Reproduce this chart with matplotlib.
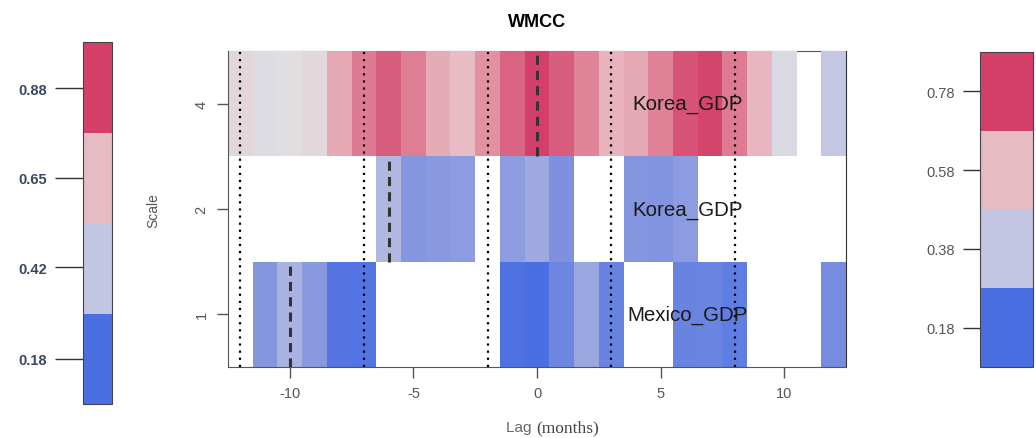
import numpy as np
import matplotlib
matplotlib.use("Agg")
import matplotlib.pyplot as plt
from matplotlib.colors import LinearSegmentedColormap, ListedColormap, BoundaryNorm
from matplotlib.cm import ScalarMappable

plt.rcParams['font.family'] = ['Liberation Sans', 'DejaVu Sans']
plt.rcParams['axes.unicode_minus'] = False

# ---- data ----
lags = np.arange(-12, 13)
row_scales = ['1', '2', '4']
row_names = ['Mexico_GDP', 'Korea_GDP', 'Korea_GDP']
nan = np.nan

# scale 1 (bottom row), lags -12..12
mexico_s1 = [nan, 0.25, 0.35, 0.26, 0.05, 0.04, nan, nan, nan, nan, nan, 0.02, 0.00,
             0.15, 0.31, 0.13, nan, nan, 0.13, 0.14, 0.09, nan, nan, nan, 0.19]
# scale 2 (middle row)
korea_s2 = [nan, nan, nan, nan, nan, nan, 0.37, 0.25, 0.26, 0.27, nan, 0.27, 0.32,
            0.22, nan, nan, 0.25, 0.24, 0.27, nan, nan, nan, nan, nan, nan]
# scale 4 (top row)
korea_s4 = [0.53, 0.49, 0.50, 0.52, 0.67, 0.81, 0.90, 0.80, 0.66, 0.61, 0.74, 0.88, 1.00,
            0.90, 0.78, 0.64, 0.67, 0.79, 0.93, 0.98, 0.81, 0.63, 0.48, nan, 0.42]

peak_lags = [-10, -6, 0]                 # dashed marks per row
window_lags = [-12, -7, -2, 3, 8]        # dotted lines

left_ticks = [0.18, 0.42, 0.65, 0.88]
left_bounds = [0.06, 0.30, 0.535, 0.765, 1.0]
right_ticks = [0.18, 0.38, 0.58, 0.78]
right_bounds = [0.08, 0.28, 0.48, 0.68, 0.88]

# ---- colours ----
cell_cmap = LinearSegmentedColormap.from_list('bluered', [
    (0.00, '#4a6fe3'), (0.25, '#8596e0'), (0.40, '#bcc1e2'), (0.50, '#e0dfe2'),
    (0.60, '#e8c0c8'), (0.75, '#e18ea0'), (1.00, '#d33f6a')])
bin_cmap = ListedColormap(['#4a6fe3', '#c2c6e2', '#e6bbc4', '#d4406a'])

fig = plt.figure(figsize=(10.36, 4.39), dpi=100)
ax = fig.add_axes([0.2201, 0.1617, 0.5965, 0.7198])

values = np.ma.masked_invalid(np.array([mexico_s1, korea_s2, korea_s4]))
x_edges = np.append(lags - 0.5, lags[-1] + 0.5)
y_edges = np.arange(0.5, 4.5, 1.0)
ax.pcolormesh(x_edges, y_edges, values, cmap=cell_cmap, vmin=0, vmax=1, zorder=1)

for lag in window_lags:
    ax.axvline(lag, color='black', lw=1.6, ls=(0, (1, 2.2)), zorder=3)
for row, lag in enumerate(peak_lags):
    ax.plot([lag, lag], [row + 0.5, row + 1.5], color='#333333', lw=2.2,
            ls=(0, (3, 2)), zorder=4)

for row, name in enumerate(row_names):
    ax.text(6.1, row + 1, name, ha='center', va='center', fontsize=14.8,
            color='#1a1a1a', zorder=5)

ax.set_xlim(-12.5, 12.5)
ax.set_ylim(0.5, 3.5)
ax.set_xticks([-10, -5, 0, 5, 10])
ax.set_yticks([1, 2, 3])
ax.set_yticklabels(row_scales, rotation=90, va='center')
ax.tick_params(axis='both', colors='#555555', labelsize=10.5, length=8, width=1)
ax.tick_params(axis='x', pad=6)
ax.tick_params(axis='y', pad=6)
for side in ['left', 'bottom', 'right', 'top']:
    ax.spines[side].set_color('#555555')
ax.spines['top'].set_zorder(0.5)
ax.spines['right'].set_color('#333333')

ax.set_title('WMCC', fontsize=13, fontweight='bold', pad=18)
fig.text(0.148, 0.52, 'Scale', rotation=90, ha='center', va='center',
         fontsize=10, color='#555555')
fig.text(0.5175, 0.025, 'Lag ', ha='right', va='center', fontsize=11, color='#666666')
fig.text(0.5175, 0.025, '(months)', ha='left', va='center', fontsize=12.5,
         color='#444444', family='Liberation Serif')

# ---- left colour bar ----
cax1 = fig.add_axes([0.0801, 0.0774, 0.028, 0.8246])
cb1 = fig.colorbar(ScalarMappable(BoundaryNorm(left_bounds, 4), bin_cmap), cax=cax1,
                   ticks=left_ticks)
cax1.minorticks_off()
cax1.yaxis.set_ticks_position('left')
cax1.set_yticklabels([f'{t:.2f}' for t in left_ticks])
cax1.tick_params(length=20, width=1, color='#333333', labelsize=10.5,
                 labelcolor='#3a4760', pad=6)
for t in cax1.get_yticklabels():
    t.set_fontweight('bold')
cb1.outline.set_edgecolor('#444444')
cb1.outline.set_linewidth(0.8)

# ---- right colour bar ----
cax2 = fig.add_axes([0.946, 0.1617, 0.051, 0.718])
cb2 = fig.colorbar(ScalarMappable(BoundaryNorm(right_bounds, 4), bin_cmap), cax=cax2,
                   ticks=right_ticks)
cax2.minorticks_off()
cax2.yaxis.set_ticks_position('left')
cax2.set_yticklabels([f'{t:.2f}' for t in right_ticks])
cax2.tick_params(length=12, width=1, color='#333333', labelsize=10.5,
                 labelcolor='#555555', pad=6)
cb2.outline.set_edgecolor('#444444')
cb2.outline.set_linewidth(0.8)

fig.savefig('out.png', dpi=100)
